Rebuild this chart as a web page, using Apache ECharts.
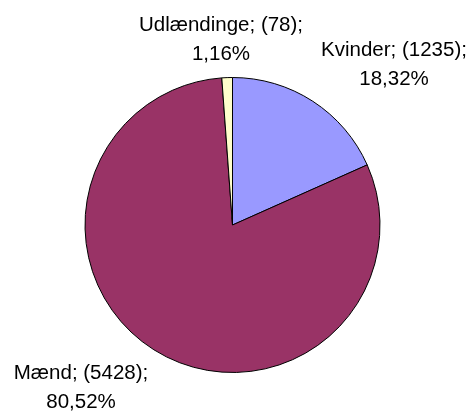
<!DOCTYPE html>
<html>
<head>
<meta charset="utf-8">
<script src="https://cdn.jsdelivr.net/npm/echarts@6/dist/echarts.min.js"></script>
<style>
  html, body { margin: 0; padding: 0; background: #fff; }
  #chart { width: 473px; height: 412px; }
</style>
</head>
<body>
<div id="chart"></div>
<script>
const categories = ['Kvinder', 'Mænd', 'Udlændinge']
const counts = [1235, 5428, 78]
const colors = ['#9999FF', '#993366', '#FFFFCC']

// placering af etiketter (midtpunkt af tekstblok)
const labelPos = [
  [394, 65],
  [81, 388],
  [221, 40],
]

const chart = echarts.init(document.getElementById('chart'), null, { renderer: 'canvas' })

chart.setOption({
  animation: false,
  series: [
    {
      type: 'pie',
      center: [232.5, 225],
      radius: [0, 147.5],
      startAngle: 90,
      clockwise: true,
      data: categories.map((name, i) => ({
        name,
        value: counts[i],
        itemStyle: { color: colors[i] },
      })),
      itemStyle: { borderColor: '#000', borderWidth: 1 },
      label: {
        show: true,
        position: 'outside',
        fontFamily: 'Liberation Sans, Arial, sans-serif',
        fontSize: 20.5,
        lineHeight: 29,
        color: '#000',
        align: 'center',
        overflow: 'none',
        width: 300,
        formatter: (p) => p.name + '; (' + p.value + ');\n' + p.percent.toFixed(2).replace('.', ',') + '%',
      },
      labelLine: { show: false },
      labelLayout: (params) => ({
        x: labelPos[params.dataIndex][0],
        y: labelPos[params.dataIndex][1],
        align: 'center',
        verticalAlign: 'middle',
      }),
      emphasis: { disabled: true },
    },
  ],
})
</script>
</body>
</html>
